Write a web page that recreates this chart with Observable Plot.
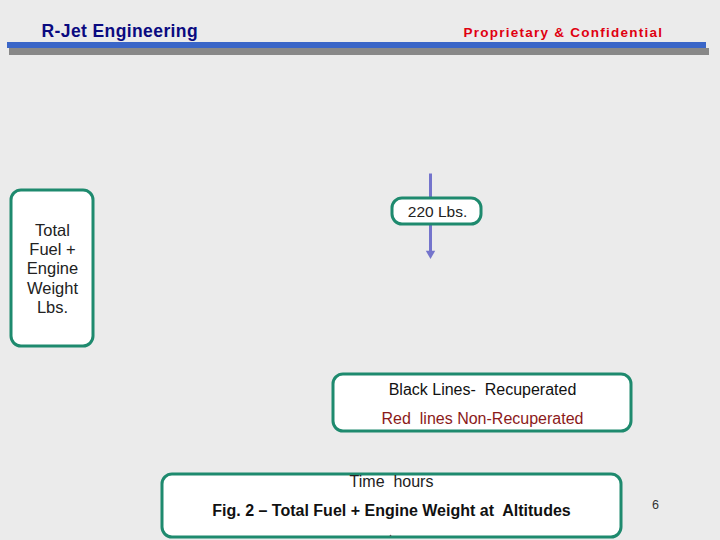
<!DOCTYPE html>
<html>
<head>
<meta charset="utf-8">
<script src="https://cdn.jsdelivr.net/npm/d3@7"></script>
<script src="https://cdn.jsdelivr.net/npm/@observablehq/plot@0.6"></script>
<style>
  html, body { margin: 0; padding: 0; background: #ebebeb; }
  #chart svg { display: block; }
</style>
</head>
<body>
<div id="chart"></div>
<script>
// Text content of the slide
const company = "R-Jet Engineering";
const notice = "Proprietary & Confidential";
const yAxisLines = ["Total", "Fuel +", "Engine", "Weight", "Lbs."];
const annotation = "220 Lbs.";
const legendLabels = ["Black Lines-  Recuperated", "Red  lines Non-Recuperated"];
const xAxisLabel = "Time  hours";
const caption = "Fig. 2 \u2013 Total Fuel + Engine Weight at  Altitudes";
const pageNumber = "6";

// Layout (slide units = pixels of the 720x540 slide)
const boxes = [
  {x1: 11, x2: 93, y1: 190, y2: 346},
  {x1: 392, x2: 481, y1: 198, y2: 224},
  {x1: 333, x2: 631, y1: 374, y2: 431},
  {x1: 162, x2: 621, y1: 474, y2: 537}
];
const yAxisRows = yAxisLines.map((t, i) => ({t, x: 52, y: 230 + i * 19.3}));
const legendRows = legendLabels.map((t, i) => ({t, x: 482, y: 389 + i * 29, c: i === 0 ? "#111" : "#8b1a1a"}));

const chart = Plot.plot({
  width: 720,
  height: 540,
  margin: 0,
  x: {domain: [0, 720], range: [0, 720], axis: null},
  y: {domain: [0, 540], range: [0, 540], axis: null},
  style: {background: "#ebebeb", fontFamily: "Liberation Sans, Arial, sans-serif"},
  marks: [
    // header bars
    Plot.rect([{x1: 9, x2: 709, y1: 48, y2: 55}], {x1: "x1", x2: "x2", y1: "y1", y2: "y2", fill: "#888888"}),
    Plot.rect([{x1: 7, x2: 706, y1: 42, y2: 48}], {x1: "x1", x2: "x2", y1: "y1", y2: "y2", fill: "#3a66c8"}),
    Plot.text([company], {x: () => 41, y: () => 31, text: d => d, textAnchor: "start", fill: "#0a0a80", fontWeight: "bold", fontSize: 17.5, className: "company"}),
    Plot.text([notice], {x: () => 463, y: () => 32, text: d => d, textAnchor: "start", fill: "#e00010", fontWeight: "bold", fontSize: 13.5, className: "notice"}),
    // arrow
    Plot.link([{x1: 430, y1: 173, x2: 430, y2: 252}], {x1: "x1", y1: "y1", x2: "x2", y2: "y2", stroke: "#7474cc", strokeWidth: 3}),
    Plot.dot([0], {x: () => 430, y: () => 253, symbol: "triangle", rotate: 180, r: 3.5, fill: "#7474cc", stroke: "none"}),
    // boxes
    Plot.rect(boxes, {x1: "x1", x2: "x2", y1: "y1", y2: "y2", fill: "white", stroke: "#1e8a6e", strokeWidth: 3, rx: 10}),
    // y-axis label box text
    Plot.text(yAxisRows, {x: "x", y: "y", text: "t", fill: "#222", fontSize: 16.5}),
    // annotation
    Plot.text([annotation], {x: () => 437, y: () => 212, text: d => d, fill: "#222", fontSize: 15.5}),
    // legend
    Plot.text(legendRows, {x: "x", y: "y", text: "t", fill: "c", fontSize: 16}),
    // x label and caption
    Plot.text([xAxisLabel], {x: () => 391, y: () => 481, text: d => d, fill: "#222", fontSize: 16}),
    Plot.text([caption], {x: () => 391, y: () => 510, text: d => d, fill: "#111", fontWeight: "bold", fontSize: 16}),
    Plot.dot([0], {x: () => 390, y: () => 535, r: 0.8, fill: "#555"}),
    Plot.text([pageNumber], {x: () => 655, y: () => 504, text: d => d, fill: "#333", fontSize: 12.5})
  ]
});
chart.querySelectorAll("text").forEach(t => t.setAttribute("xml:space", "preserve"));
chart.style.whiteSpace = "pre";
chart.querySelectorAll(".company text").forEach(t => t.setAttribute("letter-spacing", "0.4"));
chart.querySelectorAll(".notice text").forEach(t => t.setAttribute("letter-spacing", "1.25"));
document.getElementById("chart").appendChild(chart);
</script>
</body>
</html>
